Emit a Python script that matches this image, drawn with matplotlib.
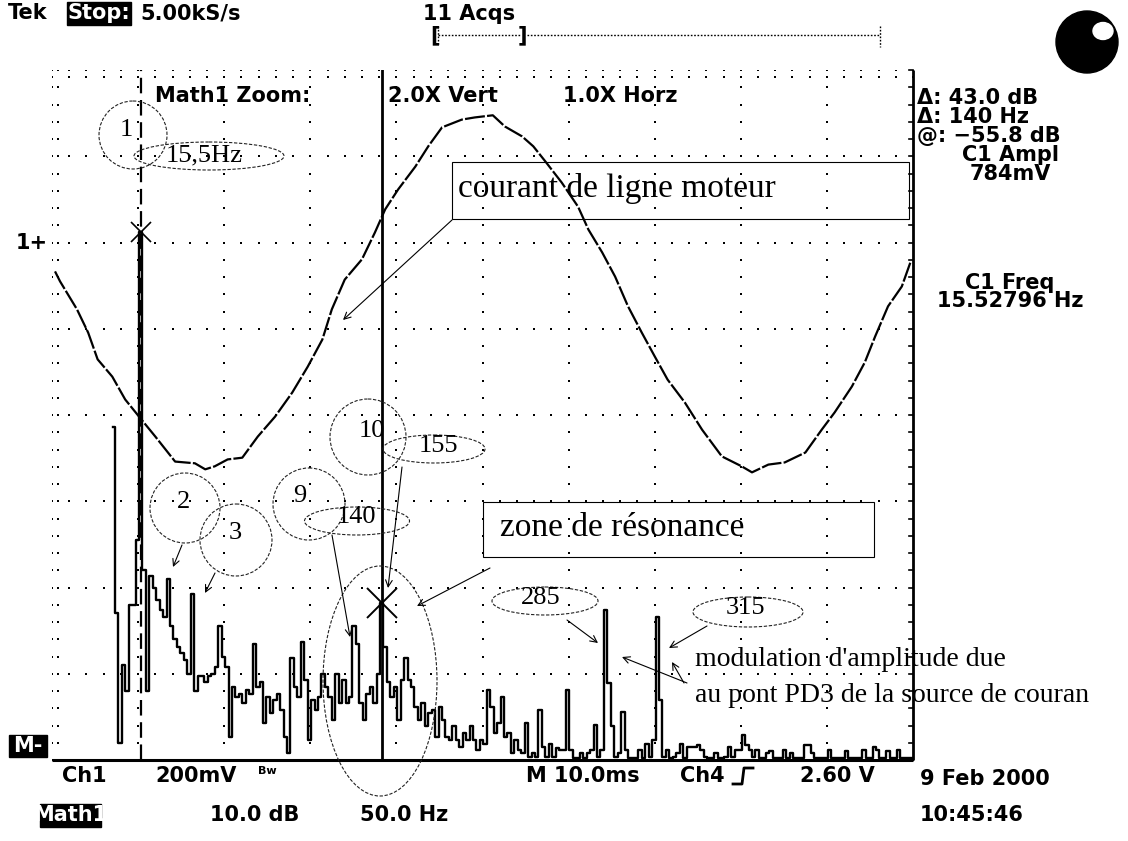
import numpy as np
import matplotlib
matplotlib.use("Agg")
import matplotlib.pyplot as plt
from matplotlib.patches import Rectangle, Ellipse, Circle

# ---------------- data ----------------
# Time-domain trace of channel 1 (ms, mV relative to the channel ground)
wave_t = [0.35, 0.93, 2.9, 4.2, 5.3, 7.0, 8.5, 10.2, 12.0, 14.3, 16.6, 17.8, 18.9,
          20.4, 22.1, 23.9, 25.9, 27.9, 29.7, 31.4, 32.5, 34.0, 36.0, 37.5, 38.7,
          40.2, 42.2, 43.7, 45.3, 47.6, 49.1, 51.2, 52.6, 54.6, 55.9, 57.3, 59.2,
          61.1, 62.3, 63.9, 65.4, 66.9, 68.5, 70.0, 71.5, 73.5, 75.5, 77.8, 80.1,
          81.3, 83.2, 85.1, 87.5, 89.4, 90.9, 92.9, 94.4, 95.6, 97.1, 98.7, 99.7]
wave_mv = [-67, -90, -155, -209, -271, -311, -364, -406, -450, -508, -512, -526, -519,
           -503, -499, -450, -404, -348, -288, -225, -155, -86, -39, 23, 77,
           123, 176, 223, 267, 285, 290, 295, 269, 246, 223, 188, 139,
           83, 30, -23, -79, -148, -209, -264, -318, -371, -434, -496, -519,
           -533, -515, -510, -487, -434, -394, -334, -278, -218, -148, -102, -46]

# FFT (Math1) magnitude in dB, bins every 2 Hz starting at -0.5 Hz
spec_f0 = -0.5
spec_df = 2.0
spec_db = [
    -35.4, -57.0, -72.0, -63.0, -66.0, -56.0, -56.0, -48.5, -12.8, -52.0,
    -66.0, -52.7, -54.0, -55.5, -56.6, -57.4, -53.0, -58.5, -60.0, -60.9,
    -61.6, -62.4, -64.0, -54.7, -66.0, -64.3, -64.3, -65.0, -64.3, -64.0,
    -63.2, -58.5, -62.0, -63.2, -71.3, -65.5, -66.7, -66.3, -67.4, -65.9,
    -66.3, -60.5, -65.5, -65.0, -69.7, -66.7, -68.6, -67.0, -66.3, -68.2,
    -71.3, -73.2, -62.2, -65.5, -66.7, -60.3, -64.7, -71.7, -67.0, -68.2,
    -66.7, -64.0, -65.5, -66.7, -69.4, -64.0, -67.4, -64.7, -67.4, -66.7,
    -58.5, -60.5, -67.4, -69.4, -66.3, -65.5, -67.4, -64.0, -55.8, -60.9,
    -65.0, -66.7, -65.5, -69.4, -64.7, -62.2, -64.7, -65.5, -67.8, -69.4,
    -67.4, -70.1, -68.6, -68.2, -71.3, -67.8, -69.4, -71.3, -71.7, -70.1,
    -71.7, -72.5, -70.9, -71.7, -70.1, -71.7, -72.8, -71.7, -72.1, -65.9,
    -67.8, -70.9, -69.7, -66.7, -71.3, -70.9, -73.2, -71.7, -72.8, -73.2,
    -69.7, -73.6, -73.2, -73.6, -68.2, -72.5, -73.6, -72.1, -73.6, -72.6,
    -72.8, -72.8, -65.9, -72.8, -73.8, -73.8, -73.2, -73.8, -73.2, -72.8,
    -69.9, -73.6, -72.8, -56.6, -65.1, -70.1, -73.6, -73.2, -68.4, -72.8,
    -73.8, -73.8, -73.8, -72.8, -73.8, -72.1, -73.6, -71.7, -57.4, -67.0,
    -73.6, -72.8, -73.8, -73.6, -73.2, -72.1, -73.8, -72.5, -72.5, -72.5,
    -72.3, -72.8, -73.6, -73.8, -73.8, -73.2, -73.8, -73.8, -73.6, -72.5,
    -73.6, -72.8, -72.8, -71.1, -72.3, -72.8, -73.6, -72.8, -73.8, -73.8,
    -73.2, -73.0, -73.8, -73.8, -73.8, -72.8, -73.8, -73.2, -73.8, -73.8,
    -73.8, -72.3, -72.3, -73.2, -73.8, -73.8, -73.8, -73.8, -72.8, -73.8,
    -73.8, -73.8, -73.8, -73.0, -73.8, -73.8, -73.8, -73.8, -72.8, -73.8,
    -73.8, -72.5, -72.8, -73.8, -73.8, -73.0, -73.8, -73.8, -72.8, -73.8,
    -73.8, -73.8, -73.8]
spec_f = spec_f0 + spec_df * np.arange(len(spec_db))

# Cursors (paired, on Math1)
cursor1_freq, cursor1_db = 15.5, -12.8
cursor2_freq, cursor2_db = 155.5, -55.8

# ---------------- figure ----------------
W, H = 1128, 841
fig = plt.figure(figsize=(W / 100, H / 100), dpi=100)
fig.patch.set_facecolor("white")

x0, x1, y0, y1 = 52, 913, 70, 760          # graticule in pixels
scr = [x0 / W, (H - y1) / H, (x1 - x0) / W, (y1 - y0) / H]


def blank(ax):
    ax.set_axis_off()
    ax.patch.set_alpha(0)


# graticule in divisions
ax_g = fig.add_axes(scr)
blank(ax_g)
ax_g.set_xlim(0, 10)
ax_g.set_ylim(0, 8)
dx, dy = [], []
minor_x = np.arange(0, 10.001, 0.2)
minor_y = np.arange(0, 8.001, 0.2)
for c in range(0, 10):
    dx += [c] * len(minor_y)
    dy += list(minor_y)
for r in range(0, 8):
    dx += list(minor_x)
    dy += [r] * len(minor_x)
# edge tick pairs (left and top)
dx += [0.07] * len(minor_y)
dy += list(minor_y)
dx += list(minor_x)
dy += [7.92] * len(minor_x)
dx += list(minor_x)
dy += [8.0] * len(minor_x)
ax_g.scatter(dx, dy, s=3, marker="s", color="black", linewidths=0, zorder=1)
ax_g.plot([0, 10], [0, 0], color="black", lw=2.2, solid_capstyle="butt", clip_on=False)
ax_g.plot([10, 10], [0, 8], color="black", lw=2.0, solid_capstyle="butt", clip_on=False)
for yy in minor_y:
    ax_g.plot([9.955, 10], [yy, yy], color="black", lw=1.2, clip_on=False)

# channel 1 time trace: 10 ms/div, 200 mV/div
ax_t = fig.add_axes(scr)
blank(ax_t)
ax_t.set_xlim(0, 100)
ax_t.set_ylim(-1200, 400)
ax_t.plot(wave_t, wave_mv, color="black", lw=1.6, ls=(0, (9, 1.0)))

# Math1 FFT: 50 Hz/div, 10 dB/div
ax_f = fig.add_axes(scr)
blank(ax_f)
ax_f.set_xlim(-36.0, 464.0)
ax_f.set_ylim(-74.0, 6.0)
ax_f.plot(spec_f, spec_db, color="black", lw=1.7, drawstyle="steps-mid")
ax_f.axvline(cursor1_freq, color="black", lw=1.6, ls=(0, (7, 3)))
ax_f.axvline(cursor2_freq, color="black", lw=2.0)
ax_f.plot([cursor1_freq], [cursor1_db], marker="x", ms=14, mew=1.2, color="black")
ax_f.plot([cursor2_freq], [cursor2_db], marker="x", ms=22, mew=1.4, color="black")

# overlay in pixel coordinates for readouts and hand annotations
ov = fig.add_axes([0, 0, 1, 1])
blank(ov)
ov.set_xlim(0, W)
ov.set_ylim(H, 0)

mono = dict(family="DejaVu Sans", weight="bold", fontsize=15, va="center")
serif = ["Liberation Serif", "DejaVu Serif"]

ov.text(8, 13, "Tek", ha="left", **mono)
ov.add_patch(Rectangle((67, 2), 64, 23, color="black"))
ov.text(99, 13, "Stop:", ha="center", color="white", **mono)
ov.text(140, 13, "5.00kS/s", ha="left", **mono)
ov.text(423, 14, "11 Acqs", ha="left", **mono)
ov.text(430, 35, "[", ha="left", **mono)
ov.plot([438, 520], [35, 35], color="black", lw=1.0, ls=(0, (1.2, 1.2)))
ov.plot([438, 438], [26, 45], color="black", lw=1.0, ls=(0, (1.2, 1.2)))
ov.text(518, 35, "]", ha="left", **mono)
ov.plot([527, 880], [35, 35], color="black", lw=1.0, ls=(0, (1.2, 1.2)))
ov.plot([880, 880], [26, 47], color="black", lw=1.0, ls=(0, (1.2, 1.2)))

ov.add_patch(Circle((1087, 42), 31, color="black"))
ov.add_patch(Ellipse((1103, 31), 20, 17, color="white"))

ov.text(155, 96, "Math1 Zoom:", ha="left", **mono)
ov.text(388, 96, "2.0X Vert", ha="left", **mono)
ov.text(563, 96, "1.0X Horz", ha="left", **mono)

ov.text(917, 98, f"\u0394: {cursor1_db - cursor2_db:.1f} dB", ha="left", **mono)
ov.text(917, 117, f"\u0394: {cursor2_freq - cursor1_freq:.0f} Hz", ha="left", **mono)
ov.text(917, 136, f"@: \u2212{abs(cursor2_db):.1f} dB", ha="left", **mono)
ov.text(1010, 155, "C1 Ampl", ha="center", **mono)
ov.text(1010, 174, "784mV", ha="center", **mono)
ov.text(1010, 283, "C1 Freq", ha="center", **mono)
ov.text(1010, 301, "15.52796 Hz", ha="center", **mono)

ov.text(16, 243, "1+", ha="left", **mono)
ov.add_patch(Rectangle((9, 735), 38, 22, color="black"))
ov.text(13, 746, "M-", ha="left", color="white", **mono)

ov.text(62, 776, "Ch1", ha="left", **mono)
ov.text(155, 776, "200mV", ha="left", **mono)
ov.text(258, 771, "Bw", ha="left", family="DejaVu Sans", weight="bold", fontsize=8, va="center")
ov.text(526, 776, "M 10.0ms", ha="left", **mono)
ov.text(680, 776, "Ch4", ha="left", **mono)
ov.plot([733, 742, 744, 753], [784, 784, 768, 768], color="black", lw=2.0)
ov.text(800, 776, "2.60 V", ha="left", **mono)
ov.text(920, 779, "9 Feb 2000", ha="left", **mono)
ov.text(920, 815, "10:45:46", ha="left", **mono)
ov.add_patch(Rectangle((40, 804), 61, 23, color="black"))
ov.text(70, 815, "Math1", ha="center", color="white", **mono)
ov.text(210, 815, "10.0 dB", ha="left", **mono)
ov.text(360, 815, "50.0 Hz", ha="left", **mono)

# hand annotations
dash = dict(fill=False, edgecolor="#222222", lw=0.8, ls=(0, (3, 1.5)))
ov.add_patch(Circle((133, 135), 34, **dash))
ov.text(126, 130, "1", family=serif, fontsize=19, ha="center", va="center")
ov.add_patch(Ellipse((209, 156), 150, 28, **dash))
ov.text(204, 155, "15,5Hz", family=serif, fontsize=19, ha="center", va="center")

ov.add_patch(Rectangle((452, 162), 457, 57, fill=False, edgecolor="black", lw=0.8))
ov.text(458, 188, "courant de ligne moteur", family=serif, fontsize=24,
        ha="left", va="center")

ov.add_patch(Circle((368, 437), 38, **dash))
ov.text(372, 431, "10", family=serif, fontsize=19, ha="center", va="center")
ov.add_patch(Ellipse((434, 449), 102, 28, **dash))
ov.text(438, 446, "155", family=serif, fontsize=19, ha="center", va="center")

ov.add_patch(Circle((185, 508), 35, **dash))
ov.text(183, 502, "2", family=serif, fontsize=19, ha="center", va="center")
ov.add_patch(Circle((236, 540), 36, **dash))
ov.text(235, 533, "3", family=serif, fontsize=19, ha="center", va="center")

ov.add_patch(Circle((309, 504), 36, **dash))
ov.text(300, 496, "9", family=serif, fontsize=19, ha="center", va="center")
ov.add_patch(Ellipse((357, 521), 105, 28, **dash))
ov.text(356, 517, "140", family=serif, fontsize=19, ha="center", va="center")

ov.add_patch(Ellipse((380, 681), 114, 230, **dash))
ov.add_patch(Rectangle((483, 502), 391, 55, fill=False, edgecolor="black", lw=0.8))
ov.text(500, 528, "zone de r\u00e9sonance", family=serif, fontsize=24,
        ha="left", va="center")

ov.add_patch(Ellipse((545, 601), 106, 28, **dash))
ov.text(541, 598, "285", family=serif, fontsize=19, ha="center", va="center")
ov.add_patch(Ellipse((748, 612), 110, 30, **dash))
ov.text(745, 608, "315", family=serif, fontsize=19, ha="center", va="center")

ov.text(695, 659, "modulation d'amplitude due", family=serif, fontsize=20,
        ha="left", va="center")
ov.text(695, 695, "au pont PD3 de la source de couran", family=serif, fontsize=20,
        ha="left", va="center")

arrow = dict(arrowstyle="->", color="black", lw=0.8, mutation_scale=12,
             shrinkA=0, shrinkB=0)
for tail, tip in [((452, 220), (343, 320)),
                  ((182, 545), (173, 567)),
                  ((215, 573), (205, 593)),
                  ((332, 535), (350, 637)),
                  ((402, 467), (388, 588)),
                  ((490, 568), (417, 606)),
                  ((567, 620), (598, 643)),
                  ((707, 626), (669, 648)),
                  ((687, 683), (622, 657)),
                  ((684, 683), (672, 662))]:
    ov.annotate("", xy=tip, xytext=tail, arrowprops=arrow)

fig.savefig("out.png", dpi=100)
